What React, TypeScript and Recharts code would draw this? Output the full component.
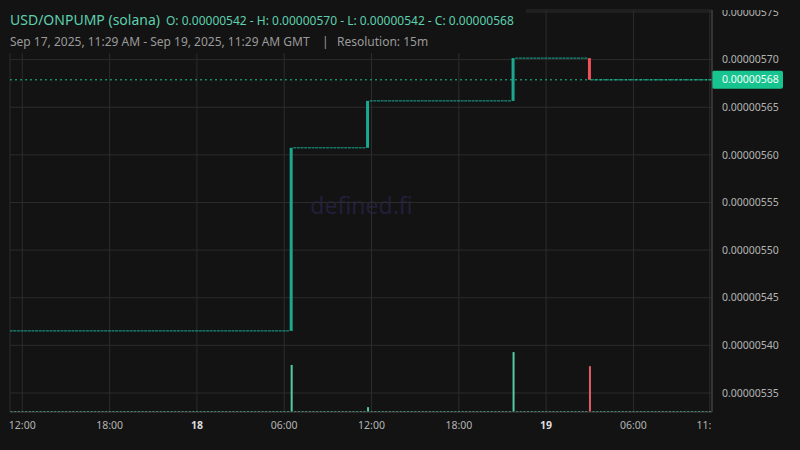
import { ComposedChart, Bar, XAxis, YAxis, CartesianGrid, ReferenceLine } from "recharts";

const BG = "#131313";
const GRID = "#2c2c2c";
const UP = "#1ba890";
const DOWN = "#ef5159";
const VOL_UP = "#55c9a2";
const VOL_DOWN = "#e05d69";
const TEXT = "#b4b4b4";

// times are hours since Sep 17, 2025 00:00 GMT, one candle every 15m
const levelStarts = [11.25, 30.5, 35.75, 45.75, 51];
const levelPrices = [0.0000054152, 0.0000056074, 0.0000056567, 0.0000057016, 0.0000056788];
const lastCandle = 59.25;

const volumeTimes = [30.5, 35.75, 45.75, 51];
const volumeValues = [117, 12, 149, 114];
const quietVolume = 2.5;

const xTicks = [12, 18, 24, 30, 36, 42, 48, 54, 59.25];
const xTickLabels = ["12:00", "18:00", "18", "06:00", "12:00", "18:00", "19", "06:00", "11:15"];
const dayTicks = ["18", "19"];
const yTicks = [
  0.00000535, 0.0000054, 0.00000545, 0.0000055, 0.00000555, 0.0000056, 0.00000565, 0.0000057, 0.00000575,
];

type Candle = { t: number; open: number; close: number; body: number[]; volume: number };

const candles: Candle[] = [];
for (let q = levelStarts[0] * 4; q <= lastCandle * 4; q++) {
  const t = q / 4;
  let k = 0;
  while (k + 1 < levelStarts.length && levelStarts[k + 1] <= t) k++;
  const close = levelPrices[k];
  const open = k > 0 && levelStarts[k] === t ? levelPrices[k - 1] : close;
  const vi = volumeTimes.indexOf(t);
  candles.push({
    t,
    open,
    close,
    body: [Math.min(open, close), Math.max(open, close)],
    volume: vi >= 0 ? volumeValues[vi] : quietVolume,
  });
}

const fmt = (v: number) => v.toFixed(8);
const lastPrice = levelPrices[levelPrices.length - 1];
const ohlc = `O: ${fmt(levelPrices[0])} - H: ${fmt(Math.max(...levelPrices))} - L: ${fmt(
  Math.min(...levelPrices)
)} - C: ${fmt(lastPrice)}`;

function CandleShape(props: any) {
  const { x, y, width, height, payload } = props;
  const up = payload.close >= payload.open;
  const h = Math.abs(height || 0);
  const top = height < 0 ? y + height : y;
  return (
    <rect
      x={x}
      y={h < 1 ? top - 0.5 : top}
      width={width}
      height={Math.max(h, 1)}
      fill={up ? UP : DOWN}
    />
  );
}

function VolumeShape(props: any) {
  const { x, y, width, height, payload } = props;
  const up = payload.close >= payload.open;
  return <rect x={x} y={y} width={width} height={Math.max(height, 1)} fill={up ? VOL_UP : VOL_DOWN} />;
}

function XTick(props: any) {
  const { x, y, payload } = props;
  const i = xTicks.indexOf(payload.value);
  const label = xTickLabels[i] ?? "";
  const bold = dayTicks.includes(label);
  return (
    <g>
      <defs>
        <clipPath id={`xt${i}`}>
          <rect x={0} y={400} width={712} height={50} />
        </clipPath>
      </defs>
      <text
        x={x}
        y={y}
        dy={17}
        textAnchor="middle"
        fontSize={10.5}
        fontWeight={bold ? 700 : 400}
        fill={bold ? "#dcdcdc" : TEXT}
        clipPath={`url(#xt${i})`}
      >
        {label}
      </text>
    </g>
  );
}

function YTick(props: any) {
  const { x, y, payload, index } = props;
  return (
    <g>
      <defs>
        <clipPath id={`yt${index}`}>
          <rect x={712} y={10} width={88} height={402} />
        </clipPath>
      </defs>
      <text x={x} y={y} dy="0.35em" textAnchor="start" fontSize={10.5} fill={TEXT} clipPath={`url(#yt${index})`}>
        {fmt(payload.value)}
      </text>
    </g>
  );
}

function PriceTag(props: any) {
  const { viewBox } = props;
  const left = viewBox.x + viewBox.width;
  const cy = viewBox.y;
  return (
    <g>
      <rect x={left} y={cy - 9} width={71} height={18} rx={2} fill="#17c38e" />
      <text x={left + 10} y={cy} dy="0.35em" fontSize={10.5} fill="#f2fffa">
        {fmt(lastPrice)}
      </text>
    </g>
  );
}

export default function App() {
  return (
    <div
      style={{
        position: "fixed",
        left: 0,
        top: 0,
        width: 800,
        height: 450,
        background: BG,
        overflow: "hidden",
        fontFamily: "'Noto Sans', sans-serif",
      }}
    >
      <svg width={800} height={450} style={{ position: "absolute", left: 0, top: 0 }}>
        <text x={361.5} y={214} textAnchor="middle" fontSize={23} fill="#221f3a">
          defined.fi
        </text>
      </svg>
      <div style={{ position: "absolute", left: 0, top: 0 }}>
        <ComposedChart width={800} height={450} data={candles} margin={{ top: 10, right: 0, bottom: 0, left: 10 }}>
          <CartesianGrid xAxisId="x" yAxisId="price" stroke={GRID} />
          <XAxis
            xAxisId="x"
            dataKey="t"
            type="number"
            domain={[11.155, 59.4]}
            allowDataOverflow
            ticks={xTicks}
            interval={0}
            height={38}
            tick={<XTick />}
            tickLine={false}
            tickSize={0}
            tickMargin={0}
            axisLine={{ stroke: "#3a3a3a" }}
          />
          <XAxis xAxisId="xv" dataKey="t" type="number" domain={[11.155, 59.4]} allowDataOverflow hide />
          <YAxis
            yAxisId="price"
            orientation="right"
            type="number"
            domain={[0.00000533005, 0.0000057521]}
            allowDataOverflow
            ticks={yTicks}
            interval={0}
            width={88}
            tick={<YTick />}
            tickLine={false}
            tickSize={0}
            tickMargin={10}
            axisLine={{ stroke: "#4a4a4a" }}
          />
          <YAxis yAxisId="vol" domain={[0, 1000]} hide />
          <Bar
            xAxisId="xv"
            yAxisId="vol"
            dataKey="volume"
            barSize={2}
            shape={<VolumeShape />}
            isAnimationActive={false}
          />
          <Bar
            xAxisId="x"
            yAxisId="price"
            dataKey="body"
            barSize={3}
            shape={<CandleShape />}
            isAnimationActive={false}
          />
          <ReferenceLine
            xAxisId="x"
            yAxisId="price"
            y={lastPrice}
            stroke="#17c38e"
            strokeDasharray="2 3"
            label={<PriceTag />}
          />
        </ComposedChart>
      </div>
      <svg width={526} height={53} style={{ position: "absolute", left: 0, top: 0 }}>
        <rect x={0} y={0} width={526} height={53} fill={BG} />
        <text x={10} y={25} fontSize={14} fill="#5ecfae">
          USD/ONPUMP (solana)
        </text>
        <text x={166} y={25} fontSize={12} fill="#5ecfae">
          {ohlc}
        </text>
        <text x={10} y={46} fontSize={12} fill="#9a9a9a">
          Sep 17, 2025, 11:29 AM - Sep 19, 2025, 11:29 AM GMT
        </text>
        <text x={322} y={46} fontSize={12} fill="#9a9a9a">
          |
        </text>
        <text x={337} y={46} fontSize={12} fill="#9a9a9a">
          Resolution: 15m
        </text>
      </svg>
    </div>
  );
}
